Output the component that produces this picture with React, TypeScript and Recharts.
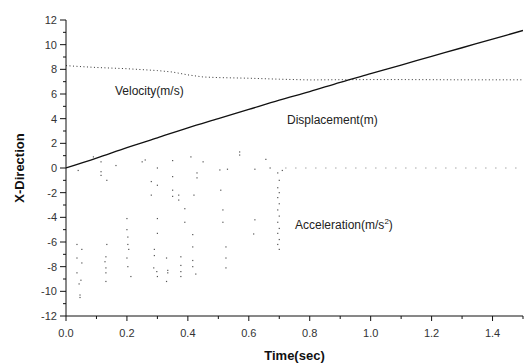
import { ComposedChart, Line, Scatter, XAxis, YAxis, Label } from "recharts"

const timeTicks = [0, 0.1, 0.2, 0.3, 0.4, 0.5, 0.6, 0.7, 0.8, 0.9, 1.0, 1.1, 1.2, 1.3, 1.4, 1.5]
const valueTicks = [-12, -11, -10, -9, -8, -7, -6, -5, -4, -3, -2, -1, 0, 1, 2, 3, 4, 5, 6, 7, 8, 9, 10, 11, 12]

const velocityT = [0, 0.05, 0.1, 0.2, 0.3, 0.35, 0.4, 0.45, 0.5, 0.6, 0.7, 0.8, 0.9, 1.0, 1.1, 1.2, 1.3, 1.4, 1.5]
const velocityV = [8.3, 8.22, 8.15, 8.05, 7.9, 7.78, 7.55, 7.38, 7.33, 7.28, 7.2, 7.14, 7.16, 7.17, 7.17, 7.16, 7.15, 7.15, 7.15]

const dispT = [0, 0.1, 0.2, 0.3, 0.4, 0.5, 0.6, 0.7, 0.8, 0.9, 1.0, 1.1, 1.2, 1.3, 1.4, 1.5]
const dispX = [0, 0.8, 1.65, 2.45, 3.25, 4.0, 4.75, 5.5, 6.2, 6.95, 7.65, 8.35, 9.05, 9.75, 10.45, 11.15]

// acceleration samples [t, a]
const accelPoints: [number, number][] = [
  [0.036, -6.2], [0.036, -7.3], [0.052, -6.6], [0.052, -7.7], [0.036, -8.5],
  [0.049, -9.1], [0.043, -9.4], [0.046, -10.3], [0.046, -10.5], [0.04, -0.2],
  [0.09, 0.9], [0.115, 0.5], [0.115, -0.3], [0.115, -0.6], [0.134, -1.0],
  [0.134, -6.2], [0.131, -7.2], [0.128, -7.6], [0.131, -8.1], [0.131, -8.5], [0.131, -9.2],
  [0.2, -4.1], [0.2, -5.0], [0.203, -5.6], [0.203, -6.2], [0.206, -6.6],
  [0.2, -7.3], [0.203, -8.0], [0.213, -8.8], [0.164, 0.2], [0.25, 0.5],
  [0.26, 0.65], [0.3, 0.0], [0.35, 0.6], [0.41, 0.9], [0.45, 0.5],
  [0.28, -1.1], [0.28, -2.2], [0.3, -1.4], [0.35, -0.7], [0.35, -1.8], [0.35, -2.3],
  [0.37, -2.2], [0.37, -2.6], [0.39, -3.3], [0.39, -4.4], [0.43, -0.4], [0.43, -0.8], [0.42, -2.2],
  [0.3, -4.1], [0.3, -5.3], [0.29, -6.6], [0.29, -7.1], [0.288, -8.1], [0.298, -8.4], [0.3, -8.8],
  [0.33, -7.3], [0.334, -8.3], [0.334, -8.5], [0.33, -9.2],
  [0.377, -7.2], [0.377, -7.9], [0.377, -8.4], [0.377, -8.8],
  [0.416, -5.4], [0.416, -6.4], [0.416, -7.5], [0.416, -8.0], [0.426, -8.6],
  [0.57, 1.3], [0.57, 1.05], [0.656, 0.7], [0.505, -0.16], [0.53, -0.1], [0.62, -0.1], [0.67, 0], [0.71, -0.2],
  [0.508, -1.8], [0.515, -3.4], [0.515, -4.4], [0.62, -4.2], [0.616, -5.35],
  [0.525, -6.4], [0.525, -7.3], [0.525, -8.1],
  [0.695, -0.4], [0.7, -1.0], [0.695, -1.6], [0.7, -2.0], [0.695, -2.4], [0.7, -2.9],
  [0.695, -3.4], [0.7, -3.9], [0.695, -4.4], [0.7, -4.9], [0.695, -5.3], [0.7, -5.8],
  [0.695, -6.2], [0.7, -6.6],
]
const accelTailT = [0.72, 1.5]
const accelTailA = [0, 0]

const velocityData = velocityT.map((t, i) => ({ t, v: velocityV[i] }))
const dispData = dispT.map((t, i) => ({ t, x: dispX[i] }))
const accelData = accelPoints.map(([t, a]) => ({ t, a }))
const accelTailData = accelTailT.map((t, i) => ({ t, a: accelTailA[i] }))

const font = "'Liberation Sans', Arial, sans-serif"

function YTick({ x, y, payload }: any) {
  const v = payload.value
  const major = v % 2 === 0
  return (
    <g>
      <line x1={x - (major ? 6 : 3)} x2={x} y1={y} y2={y} stroke="#111" />
      {major && (
        <text x={x - 9} y={y + 4} textAnchor="end" fontSize={11} fill="#333" fontFamily={font}>
          {v}
        </text>
      )}
    </g>
  )
}

function XTick({ x, y, payload }: any) {
  const v = payload.value
  const major = Math.round(v * 10) % 2 === 0
  return (
    <g>
      <line x1={x} x2={x} y1={y} y2={y + (major ? 5 : 3)} stroke="#111" />
      {major && v < 1.45 && (
        <text x={x} y={y + 21} textAnchor="middle" fontSize={11} fill="#333" fontFamily={font}>
          {v.toFixed(1)}
        </text>
      )}
    </g>
  )
}

const dotShape = (props: any) => (
  <rect x={props.cx - 0.6} y={props.cy - 0.6} width={1.2} height={1.2} fill="#555" />
)

const noteStyle: React.CSSProperties = {
  position: "absolute",
  fontFamily: font,
  fontSize: 12,
  color: "#222",
  whiteSpace: "nowrap",
}

export default function App() {
  return (
    <div style={{ position: "absolute", left: 0, top: 0, width: 525, height: 363, background: "#fff" }}>
      <ComposedChart width={525} height={363} margin={{ top: 20, right: 2, bottom: 0, left: 0 }}>
        <XAxis
          dataKey="t"
          type="number"
          domain={[0, 1.5]}
          ticks={timeTicks}
          interval={0}
          allowDataOverflow
          tickSize={0}
          tickMargin={0}
          tickLine={false}
          tick={<XTick />}
          height={47}
          stroke="#111"
        >
          <Label
            value="Time(sec)"
            position="insideBottom"
            offset={3}
            style={{ fontFamily: font, fontSize: 13, fontWeight: "bold", fill: "#111" }}
          />
        </XAxis>
        <YAxis
          type="number"
          domain={[-12, 12]}
          ticks={valueTicks}
          interval={0}
          allowDataOverflow
          tickSize={0}
          tickMargin={0}
          tickLine={false}
          tick={<YTick />}
          width={66}
          stroke="#111"
        >
          <Label
            value="X-Direction"
            angle={-90}
            position="insideLeft"
            offset={19}
            style={{ fontFamily: font, fontSize: 13, fontWeight: "bold", fill: "#111", textAnchor: "middle" }}
          />
        </YAxis>
        <Scatter data={accelData} dataKey="a" shape={dotShape} isAnimationActive={false} />
        <Line
          data={accelTailData}
          dataKey="a"
          stroke="#777"
          strokeWidth={1}
          strokeDasharray="1 9"
          dot={false}
          isAnimationActive={false}
        />
        <Line
          data={velocityData}
          dataKey="v"
          type="linear"
          stroke="#333"
          strokeWidth={1}
          strokeDasharray="1 2.5"
          dot={false}
          isAnimationActive={false}
        />
        <Line
          data={dispData}
          dataKey="x"
          type="monotone"
          stroke="#111"
          strokeWidth={1.3}
          dot={false}
          isAnimationActive={false}
        />
      </ComposedChart>
      <div style={{ ...noteStyle, left: 115, top: 84 }}>Velocity(m/s)</div>
      <div style={{ ...noteStyle, left: 287, top: 113 }}>Displacement(m)</div>
      <div style={{ ...noteStyle, left: 295, top: 217 }}>
        Acceleration(m/s<sup style={{ fontSize: 8 }}>2</sup>)
      </div>
    </div>
  )
}
